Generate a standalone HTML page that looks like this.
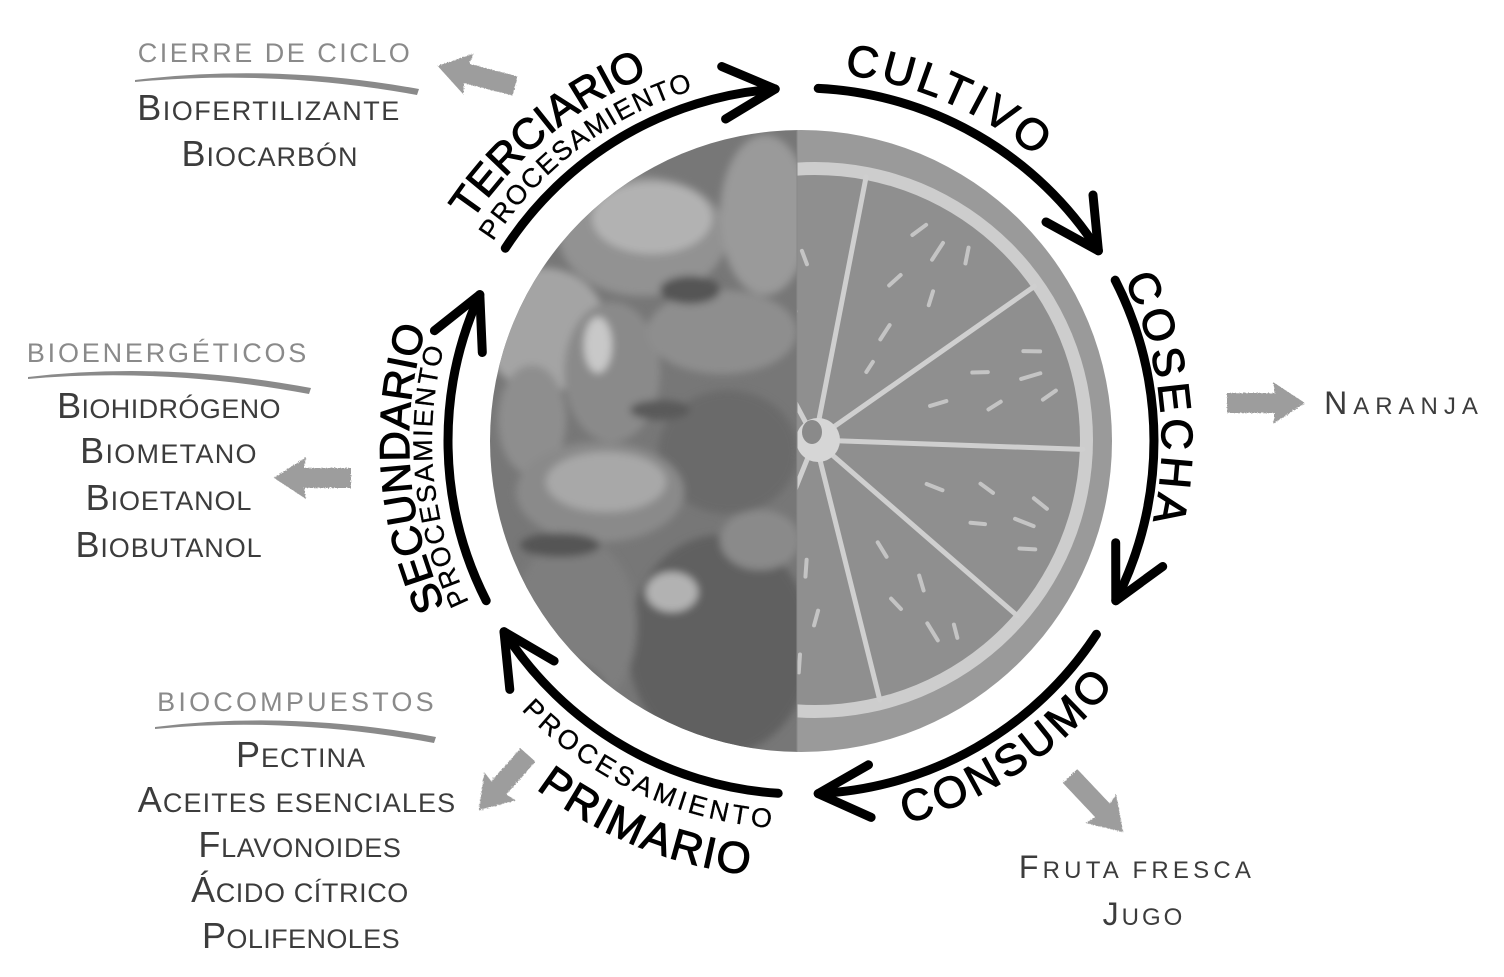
<!DOCTYPE html>
<html><head><meta charset="utf-8"><style>
html,body{margin:0;padding:0;background:#fff;}
svg{display:block;}
.side{font-family:"Liberation Sans",sans-serif;fill:#3c3c3c;text-anchor:middle;}
.hdr{font-family:"Liberation Sans",sans-serif;fill:#8a8a8a;text-anchor:middle;font-size:27px;}
.main{font-family:"Liberation Sans",sans-serif;fill:#000;stroke:#000;stroke-width:1.1;font-size:44px;}
.sub{font-family:"Liberation Sans",sans-serif;fill:#000;stroke:#000;stroke-width:0.3;font-size:27px;}
</style></head><body>
<svg width="1504" height="977" viewBox="0 0 1504 977" xmlns="http://www.w3.org/2000/svg">
<defs>
  <clipPath id="circ"><circle cx="801" cy="441" r="311"/></clipPath>
  <clipPath id="lefth"><rect x="480" y="120" width="317" height="650"/></clipPath>
  <clipPath id="righth"><rect x="797" y="120" width="330" height="650"/></clipPath>
  <filter id="chalk" x="-20%" y="-20%" width="140%" height="140%">
    <feTurbulence type="fractalNoise" baseFrequency="0.7" numOctaves="2" result="n"/>
    <feDisplacementMap in="SourceGraphic" in2="n" scale="3"/>
  </filter>
  <filter id="blur1"><feGaussianBlur stdDeviation="4"/></filter>
  <path id="pCul" d="M696.2,87.2 A369,369 0 0 1 1131.2,276.4"/>
  <path id="pCos" d="M1050.2,178.4 A366,366 0 0 1 1102.9,640.8"/>
  <path id="pCon" d="M759.4,836.8 A403,403 0 0 0 1183.6,550.7"/>
  <path id="pPri" d="M415.2,646.2 A437,437 0 0 0 936.0,856.6"/>
  <path id="pPriS" d="M449.4,605.0 A388,388 0 0 0 901.4,815.8"/>
  <path id="pSec" d="M519.0,713.3 A392,392 0 0 1 483.9,210.6"/>
  <path id="pSecS" d="M542.4,704.2 A369,369 0 0 1 496.9,232.0"/>
  <path id="pTer" d="M411.6,368.8 A396,396 0 0 1 804.5,45.0"/>
  <path id="pTerS" d="M443.4,358.4 A367,367 0 0 1 820.2,74.5"/>
</defs>
<rect width="1504" height="977" fill="#fff"/>

<!-- central photo circle -->
<g clip-path="url(#circ)">
  <g clip-path="url(#lefth)">
    <rect x="480" y="120" width="317" height="650" fill="#777"/>
    <g filter="url(#blur1)">
      <ellipse cx="643" cy="236" rx="84" ry="60" fill="#929292"/>
      <ellipse cx="652" cy="218" rx="60" ry="36" fill="#b2b2b2"/>
      <ellipse cx="765" cy="215" rx="45" ry="80" fill="#9a9a9a"/>
      <ellipse cx="545" cy="330" rx="62" ry="62" fill="#a4a4a4"/>
      <ellipse cx="612" cy="372" rx="48" ry="70" fill="#8a8a8a"/>
      <ellipse cx="598" cy="345" rx="14" ry="28" fill="#c8c8c8"/>
      <ellipse cx="722" cy="332" rx="75" ry="42" fill="#8e8e8e"/>
      <ellipse cx="728" cy="452" rx="70" ry="62" fill="#6a6a6a"/>
      <ellipse cx="532" cy="420" rx="34" ry="55" fill="#8e8e8e"/>
      <ellipse cx="600" cy="492" rx="84" ry="50" fill="#8a8a8a"/>
      <ellipse cx="606" cy="482" rx="60" ry="30" fill="#a8a8a8"/>
      <ellipse cx="720" cy="645" rx="92" ry="110" fill="#606060"/>
      <ellipse cx="672" cy="592" rx="26" ry="20" fill="#b2b2b2"/>
      <ellipse cx="575" cy="625" rx="62" ry="88" fill="#7e7e7e"/>
      <ellipse cx="560" cy="700" rx="50" ry="40" fill="#6c6c6c"/>
      <ellipse cx="760" cy="540" rx="40" ry="30" fill="#8a8a8a"/>
      <ellipse cx="690" cy="290" rx="30" ry="14" fill="#555"/>
      <ellipse cx="560" cy="545" rx="40" ry="12" fill="#555"/>
      <ellipse cx="660" cy="410" rx="30" ry="10" fill="#5a5a5a"/>
    </g>
  </g>
  <g clip-path="url(#righth)">
    <rect x="797" y="120" width="330" height="650" fill="#9a9a9a"/>
    <circle cx="815" cy="440" r="278" fill="#cdcdcd"/>
    <circle cx="815" cy="440" r="265" fill="#8f8f8f"/>
    <g stroke="#cfcfcf" stroke-width="5" stroke-linecap="round">
      <line x1="815" y1="440" x2="689.2" y2="203.4"/>
      <line x1="815" y1="440" x2="866.1" y2="176.9"/>
      <line x1="815" y1="440" x2="1034.5" y2="286.3"/>
      <line x1="815" y1="440" x2="1082.8" y2="449.4"/>
      <line x1="815" y1="440" x2="1017.3" y2="615.8"/>
      <line x1="815" y1="440" x2="879.8" y2="700.0"/>
      <line x1="815" y1="440" x2="714.6" y2="688.5"/>
    </g>
    <g stroke="#c4c4c4" stroke-width="4" stroke-linecap="round">
      <g transform="rotate(-98.5 815 440)">
        <line x1="945" y1="440" x2="960" y2="440"/><line x1="985" y1="425" x2="1000" y2="428"/><line x1="990" y1="458" x2="1004" y2="455"/><line x1="1030" y1="440" x2="1048" y2="440"/>
      </g>
      <g transform="rotate(-57 815 440)">
        <line x1="935" y1="440" x2="952" y2="440"/><line x1="985" y1="418" x2="1000" y2="422"/><line x1="990" y1="462" x2="1004" y2="458"/><line x1="1030" y1="440" x2="1050" y2="440"/><line x1="1040" y1="410" x2="1056" y2="416"/><line x1="1045" y1="470" x2="1060" y2="464"/><line x1="900" y1="446" x2="912" y2="446"/>
      </g>
      <g transform="rotate(-16.5 815 440)">
        <line x1="935" y1="440" x2="952" y2="440"/><line x1="985" y1="420" x2="1000" y2="424"/><line x1="990" y1="460" x2="1004" y2="456"/><line x1="1030" y1="440" x2="1050" y2="440"/><line x1="1040" y1="414" x2="1056" y2="419"/><line x1="1045" y1="466" x2="1060" y2="461"/>
      </g>
      <g transform="rotate(21.5 815 440)">
        <line x1="935" y1="440" x2="952" y2="440"/><line x1="985" y1="420" x2="1000" y2="424"/><line x1="990" y1="460" x2="1004" y2="456"/><line x1="1030" y1="440" x2="1050" y2="440"/><line x1="1040" y1="414" x2="1056" y2="419"/><line x1="1045" y1="466" x2="1060" y2="461"/>
      </g>
      <g transform="rotate(58.5 815 440)">
        <line x1="935" y1="440" x2="952" y2="440"/><line x1="985" y1="422" x2="1000" y2="426"/><line x1="990" y1="458" x2="1004" y2="455"/><line x1="1030" y1="440" x2="1050" y2="440"/><line x1="1045" y1="418" x2="1058" y2="422"/>
      </g>
      <g transform="rotate(94 815 440)">
        <line x1="935" y1="440" x2="952" y2="440"/><line x1="985" y1="425" x2="1000" y2="428"/><line x1="990" y1="458" x2="1004" y2="455"/><line x1="1030" y1="440" x2="1048" y2="440"/>
      </g>
    </g>
    <circle cx="818" cy="440" r="22" fill="#d6d6d6"/>
    <ellipse cx="812" cy="432" rx="10" ry="12" fill="#8a8a8a"/>
  </g>
  <line x1="797" y1="120" x2="797" y2="770" stroke="#888" stroke-width="1"/>
</g>

<!-- black cycle arcs -->
<g fill="none" stroke="#000" stroke-width="9" stroke-linecap="round" stroke-linejoin="round">
  <path d="M818.2,88.4 A353,353 0 0 1 1098.4,250.8"/>
  <path d="M1093,195 L1098.4,250.8 L1046,222"/>
  <path d="M1115.2,280.2 A353,353 0 0 1 1115.8,600.7"/>
  <path d="M1115.7,542.7 L1115.8,600.7 L1162.7,566.5"/>
  <path d="M1096.4,634.3 A353,353 0 0 1 818.2,793.6"/>
  <path d="M868.5,764.8 L818.2,793.6 L871.1,817.4"/>
  <path d="M778.2,793.3 A353,353 0 0 1 504.0,631.7"/>
  <path d="M509.8,689.4 L504.0,631.7 L554.1,661.0"/>
  <path d="M486.2,600.7 A353,353 0 0 1 479.8,294.6"/>
  <path d="M434.4,330.7 L479.8,294.6 L482.3,352.5"/>
  <path d="M505.3,248.2 A353,353 0 0 1 775.2,89.0"/>
  <path d="M721.7,66.5 L775.2,89.0 L725.6,119.0"/>
</g>

<!-- curved labels -->
<text class="main" letter-spacing="4"><textPath href="#pCul" startOffset="50%" text-anchor="middle">CULTIVO</textPath></text>
<text class="main" letter-spacing="5"><textPath href="#pCos" startOffset="50%" text-anchor="middle">COSECHA</textPath></text>
<text class="main" letter-spacing="4"><textPath href="#pCon" startOffset="50%" text-anchor="middle">CONSUMO</textPath></text>
<text class="main" letter-spacing="2"><textPath href="#pPri" startOffset="50%" text-anchor="middle">PRIMARIO</textPath></text>
<text class="sub" letter-spacing="3.8"><textPath href="#pPriS" startOffset="50%" text-anchor="middle">PROCESAMIENTO</textPath></text>
<text class="main" style="font-size:42px" letter-spacing="0.5"><textPath href="#pSec" startOffset="50%" text-anchor="middle">SECUNDARIO</textPath></text>
<text class="sub" letter-spacing="2"><textPath href="#pSecS" startOffset="50%" text-anchor="middle">PROCESAMIENTO</textPath></text>
<text class="main" style="font-size:43px" letter-spacing="-0.3"><textPath href="#pTer" startOffset="50%" text-anchor="middle">TERCIARIO</textPath></text>
<text class="sub" letter-spacing="1.6"><textPath href="#pTerS" startOffset="50%" text-anchor="middle">PROCESAMIENTO</textPath></text>

<!-- gray chalk arrows -->
<g fill="#9d9d9d" filter="url(#chalk)">
  <path transform="translate(515,86) rotate(-165.4)" d="M0,-10 L50,-10 L48,-21 L80,0 L48,21 L50,10 L0,10 Z"/>
  <path transform="translate(351,478) rotate(180)" d="M0,-10 L47,-10 L45,-21 L77,0 L45,21 L47,10 L0,10 Z"/>
  <path transform="translate(1227,403)" d="M0,-10 L48,-10 L46,-21 L78,0 L46,21 L48,10 L0,10 Z"/>
  <path transform="translate(528,755) rotate(131.7)" d="M0,-10 L44,-10 L42,-21 L74,0 L42,21 L44,10 L0,10 Z"/>
  <path transform="translate(1070,776) rotate(46.6)" d="M0,-10 L47,-10 L45,-21 L77,0 L45,21 L47,10 L0,10 Z"/>
</g>

<!-- top-left: cierre de ciclo -->
<text class="hdr" x="275" y="62" letter-spacing="2.5">CIERRE DE CICLO</text>
<path d="M135,80 Q276,63 419,89 L417,95 Q276,69 135,82 Z" fill="#8a8a8a"/>
<text class="side" x="269" y="120" letter-spacing="1.5"><tspan font-size="36">B</tspan><tspan font-size="27">IOFERTILIZANTE</tspan></text>
<text class="side" x="270" y="166" letter-spacing="1"><tspan font-size="36">B</tspan><tspan font-size="27">IOCARBÓN</tspan></text>

<!-- left: bioenergeticos -->
<text class="hdr" x="168" y="362" letter-spacing="2.8">BIOENERGÉTICOS</text>
<path d="M28,377 Q165,361 311,388 L309,394 Q165,367 28,379 Z" fill="#8a8a8a"/>
<text class="side" x="169" y="418" letter-spacing="0.4"><tspan font-size="36">B</tspan><tspan font-size="27">IOHIDRÓGENO</tspan></text>
<text class="side" x="169" y="463" letter-spacing="1.3"><tspan font-size="36">B</tspan><tspan font-size="27">IOMETANO</tspan></text>
<text class="side" x="169" y="510" letter-spacing="0.9"><tspan font-size="36">B</tspan><tspan font-size="27">IOETANOL</tspan></text>
<text class="side" x="169" y="557" letter-spacing="0.9"><tspan font-size="36">B</tspan><tspan font-size="27">IOBUTANOL</tspan></text>

<!-- bottom-left: biocompuestos -->
<text class="hdr" x="297" y="711" letter-spacing="3.2">BIOCOMPUESTOS</text>
<path d="M155,727 Q290,710 436,737 L434,743 Q290,716 155,729 Z" fill="#8a8a8a"/>
<text class="side" x="301" y="767" letter-spacing="1"><tspan font-size="36">P</tspan><tspan font-size="27">ECTINA</tspan></text>
<text class="side" x="297" y="812" letter-spacing="1.1"><tspan font-size="36">A</tspan><tspan font-size="27">CEITES ESENCIALES</tspan></text>
<text class="side" x="300" y="857" letter-spacing="0.7"><tspan font-size="36">F</tspan><tspan font-size="27">LAVONOIDES</tspan></text>
<text class="side" x="300" y="902" letter-spacing="0.6"><tspan font-size="36">Á</tspan><tspan font-size="27">CIDO CÍTRICO</tspan></text>
<text class="side" x="301" y="948" letter-spacing="0.4"><tspan font-size="36">P</tspan><tspan font-size="27">OLIFENOLES</tspan></text>

<!-- right: naranja -->
<text class="side" x="1404" y="414" letter-spacing="6"><tspan font-size="32">N</tspan><tspan font-size="24">ARANJA</tspan></text>

<!-- bottom-right: consumo outputs -->
<text class="side" x="1137" y="878" letter-spacing="4.2"><tspan font-size="32">F</tspan><tspan font-size="24">RUTA FRESCA</tspan></text>
<text class="side" x="1144" y="925" letter-spacing="3"><tspan font-size="32">J</tspan><tspan font-size="24">UGO</tspan></text>
</svg>
</body></html>
